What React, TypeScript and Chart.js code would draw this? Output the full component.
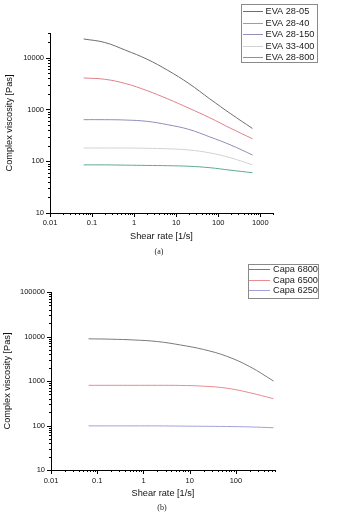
import React, { useEffect, useRef } from "react";
import { Chart, registerables } from "chart.js";

Chart.register(...registerables);

const FONT = "'Liberation Sans', Arial, Helvetica, sans-serif";

// ---- Data: panel (a) EVA grades ----
const evaShearRate = [0.063, 0.2, 0.63, 2, 6.3, 20, 63, 200, 650];
const eva2805 = [23000, 19700, 13900, 9400, 5700, 3170, 1600, 820, 430];
const eva2840 = [4060, 3830, 3160, 2320, 1600, 1060, 690, 430, 272];
const eva28150 = [635, 635, 625, 590, 507, 412, 295, 205, 132];
const eva33400 = [180, 180, 180, 178, 174, 165, 145, 116, 85];
const eva28800 = [85, 85, 84, 83, 82, 80, 75, 67, 60];
const evaLabels = ["EVA 28-05", "EVA 28-40", "EVA 28-150", "EVA 33-400", "EVA 28-800"];
const evaColors = ["#6e6e6e", "#e0808a", "#8f8fb8", "#d2d2d2", "#5faa90"];
const xTicksA = [0.01, 0.1, 1, 10, 100, 1000];
const yTicksA = [10, 100, 1000, 10000];

// ---- Data: panel (b) Capa grades ----
const capaShearRate = [0.065, 0.2, 0.63, 2, 6.3, 20, 63, 200, 650];
const capa6800 = [8870, 8700, 8350, 7700, 6450, 5100, 3600, 2100, 1000];
const capa6500 = [800, 800, 800, 800, 795, 765, 690, 545, 400];
const capa6250 = [98, 98, 98, 98, 97, 96, 95, 93, 89];
const capaLabels = ["Capa 6800", "Capa 6500", "Capa 6250"];
const capaColors = ["#7a7a7a", "#e88c90", "#a0a0dc"];
const xTicksB = [0.01, 0.1, 1, 10, 100];
const yTicksB = [10, 100, 1000, 10000, 100000];

const xTitle = "Shear rate [1/s]";
const yTitle = "Complex viscosity [Pas]";

const logTicks = {
  id: "logTicks",
  afterDraw(chart: any) {
    const ctx = chart.ctx;
    const xs = chart.scales.x;
    const ys = chart.scales.y;
    const by = chart.chartArea.bottom;
    const lx = chart.chartArea.left;
    ctx.save();
    ctx.strokeStyle = "#000";
    ctx.lineWidth = 1;
    ctx.beginPath();
    const each = (scale: any, fn: (p: number, len: number) => void) => {
      const lo = Math.floor(Math.log10(scale.min));
      const hi = Math.ceil(Math.log10(scale.max));
      for (let d = lo; d <= hi; d++) {
        for (let m = 1; m <= 9; m++) {
          const v = m * Math.pow(10, d);
          if (v < scale.min * 0.999 || v > scale.max * 1.001) continue;
          fn(scale.getPixelForValue(v), m === 1 ? 4 : 2);
        }
      }
    };
    each(xs, (p, len) => {
      const px = Math.round(p) + 0.5;
      ctx.moveTo(px, by);
      ctx.lineTo(px, by + len);
    });
    each(ys, (p, len) => {
      const py = Math.round(p) + 0.5;
      ctx.moveTo(lx, py);
      ctx.lineTo(lx - len, py);
    });
    ctx.stroke();
    ctx.restore();
  },
};

const boxLegend = {
  id: "boxLegend",
  afterDraw(chart: any, _args: any, o: any) {
    const ctx = chart.ctx;
    ctx.save();
    ctx.lineWidth = 1;
    ctx.strokeStyle = o.borderColor;
    ctx.strokeRect(o.x + 0.5, o.y + 0.5, o.w, o.h);
    ctx.font = `${o.fontSize}px ${FONT}`;
    ctx.textBaseline = "middle";
    ctx.textAlign = "left";
    chart.data.datasets.forEach((ds: any, i: number) => {
      const cy = o.y + o.firstRow + i * o.rowH;
      const ly = Math.round(cy) + 0.5;
      ctx.strokeStyle = ds.borderColor;
      ctx.beginPath();
      ctx.moveTo(o.x + o.lineStart, ly);
      ctx.lineTo(o.x + o.lineEnd, ly);
      ctx.stroke();
      ctx.fillStyle = "#1a1a1a";
      ctx.fillText(ds.label, o.x + o.textX, cy + 0.5);
    });
    ctx.restore();
  },
};

type PanelProps = {
  width: number;
  height: number;
  xs: number[];
  series: number[][];
  labels: string[];
  colors: string[];
  xMax: number;
  yMax: number;
  xTicks: number[];
  yTicks: number[];
  pad: { top: number; right: number };
  yWidth: number;
  xHeight: number;
  yTitlePad: number;
  xTitlePad: number;
  xTickPad: number;
  legend: any;
};

function Panel(p: PanelProps) {
  const ref = useRef<HTMLCanvasElement | null>(null);
  useEffect(() => {
    if (!ref.current) return;
    const datasets = p.series.map((vals, i) => ({
      label: p.labels[i],
      data: vals.map((v, j) => ({ x: p.xs[j], y: v })),
      borderColor: p.colors[i],
      backgroundColor: p.colors[i],
      borderWidth: 1,
      pointRadius: 0,
      fill: false,
      tension: 0.4,
    }));
    const chart = new Chart(ref.current, {
      type: "line",
      data: { datasets },
      plugins: [logTicks, boxLegend],
      options: {
        responsive: false,
        animation: false,
        events: [],
        layout: { padding: { top: p.pad.top, right: p.pad.right, left: 0, bottom: 0 } },
        plugins: {
          legend: { display: false },
          tooltip: { enabled: false },
          boxLegend: p.legend,
        } as any,
        scales: {
          x: {
            type: "logarithmic",
            min: 0.01,
            max: p.xMax,
            grid: { display: true, drawOnChartArea: false, drawTicks: false },
            border: { display: true, color: "#000", width: 1 },
            afterBuildTicks: (s: any) => {
              s.ticks = p.xTicks.map((v) => ({ value: v, major: true }));
            },
            afterFit: (s: any) => {
              s.height = p.xHeight;
            },
            ticks: {
              autoSkip: false,
              maxRotation: 0,
              padding: p.xTickPad,
              color: "#111",
              font: { family: FONT, size: 7.5 },
              callback: (v: any) => String(Number(v)),
            },
            title: {
              display: true,
              text: xTitle,
              color: "#111",
              font: { family: FONT, size: 9.2 },
              padding: { top: 0, bottom: p.xTitlePad },
            },
          },
          y: {
            type: "logarithmic",
            min: 10,
            max: p.yMax,
            grid: { display: true, drawOnChartArea: false, drawTicks: false },
            border: { display: true, color: "#000", width: 1 },
            afterBuildTicks: (s: any) => {
              s.ticks = p.yTicks.map((v) => ({ value: v, major: true }));
            },
            afterFit: (s: any) => {
              s.width = p.yWidth;
            },
            ticks: {
              autoSkip: false,
              padding: 6,
              color: "#111",
              font: { family: FONT, size: 7.5 },
              callback: (v: any) => String(Number(v)),
            },
            title: {
              display: true,
              text: yTitle,
              color: "#111",
              font: { family: FONT, size: 9.2 },
              padding: { top: p.yTitlePad, bottom: 0 },
            },
          },
        },
      } as any,
    });
    return () => chart.destroy();
  }, []);
  return (
    <canvas
      ref={ref}
      width={p.width}
      height={p.height}
      style={{ display: "block", width: p.width, height: p.height }}
    />
  );
}

const captionStyle: React.CSSProperties = {
  position: "absolute",
  fontFamily: "'Liberation Serif', 'Times New Roman', serif",
  fontSize: 8,
  lineHeight: "10px",
  color: "#222",
  width: 20,
  textAlign: "center",
};

export default function App() {
  useEffect(() => {
    document.body.style.margin = "0";
    document.body.style.background = "#fff";
  }, []);
  return (
    <div style={{ position: "fixed", left: 0, top: 0, width: 355, height: 516, background: "#fff", overflow: "hidden" }}>
      <div style={{ position: "absolute", left: 0, top: 0 }}>
        <Panel
          width={355}
          height={250}
          xs={evaShearRate}
          series={[eva2805, eva2840, eva28150, eva33400, eva28800]}
          labels={evaLabels}
          colors={evaColors}
          xMax={2000}
          yMax={30000}
          xTicks={xTicksA}
          yTicks={yTicksA}
          pad={{ top: 33, right: 82 }}
          yWidth={50}
          xHeight={37}
          yTitlePad={3.5}
          xTitlePad={8}
          xTickPad={5}
          legend={{ x: 241, y: 4, w: 76, h: 58, firstRow: 7, rowH: 11.5, lineStart: 2, lineEnd: 22, textX: 24.5, fontSize: 9.2, borderColor: "#8a8a8a" }}
        />
      </div>
      <div style={{ position: "absolute", left: 0, top: 250 }}>
        <Panel
          width={355}
          height={266}
          xs={capaShearRate}
          series={[capa6800, capa6500, capa6250]}
          labels={capaLabels}
          colors={capaColors}
          xMax={700}
          yMax={100000}
          xTicks={xTicksB}
          yTicks={yTicksB}
          pad={{ top: 42, right: 80 }}
          yWidth={51}
          xHeight={46}
          yTitlePad={2}
          xTitlePad={16.6}
          xTickPad={6}
          legend={{ x: 248, y: 14, w: 70, h: 34, firstRow: 4.7, rowH: 10.8, lineStart: 1, lineEnd: 22, textX: 25, fontSize: 9.2, borderColor: "#8a8a8a" }}
        />
      </div>
      <div style={{ ...captionStyle, left: 149, top: 247 }}>(a)</div>
      <div style={{ ...captionStyle, left: 152, top: 503 }}>(b)</div>
    </div>
  );
}
